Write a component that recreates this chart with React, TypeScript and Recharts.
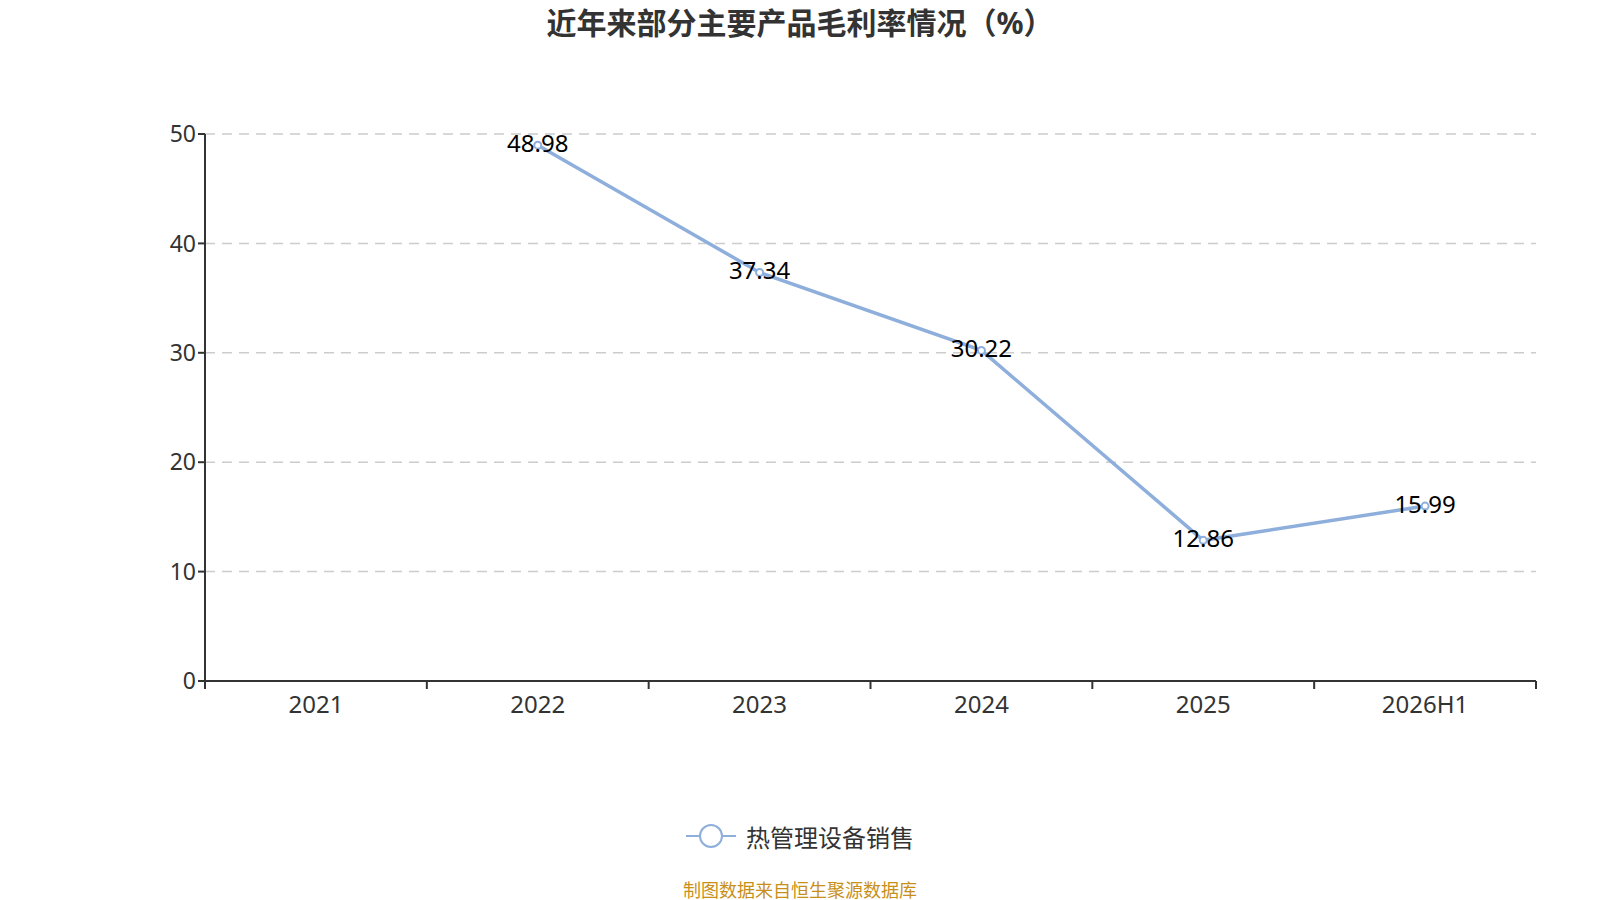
import React from "react";
import { CartesianGrid, LabelList, Line, LineChart, XAxis, YAxis } from "recharts";

const years = ["2021", "2022", "2023", "2024", "2025", "2026H1"];
const grossMargin: (number | null)[] = [null, 48.98, 37.34, 30.22, 12.86, 15.99];
const yTicks = [0, 10, 20, 30, 40, 50];

const seriesName = "热管理设备销售";
const title = "近年来部分主要产品毛利率情况（%）";
const source = "制图数据来自恒生聚源数据库";

const W = 1600;
const H = 900;
const margin = { top: 134, right: 64, bottom: 179, left: 145 };
const yAxisWidth = 60;
const xAxisHeight = 40;
const lineColor = "#8eaedb";
const font = "'Noto Sans', 'Noto Sans CJK SC', sans-serif";

const bandWidth = (W - margin.left - yAxisWidth - margin.right) / years.length;

const data = years.map((year, i) => ({ year, value: grossMargin[i] }));

function XTick(props: any) {
  const { x, y, payload, index } = props;
  const half = bandWidth / 2;
  return (
    <g>
      <line x1={x - half} y1={y - 8} x2={x - half} y2={y} stroke="#333" strokeWidth={2} />
      {index === years.length - 1 && (
        <line x1={x + half} y1={y - 8} x2={x + half} y2={y} stroke="#333" strokeWidth={2} />
      )}
      <text x={x} y={y + 24} textAnchor="middle" fill="#333" fontSize={24} fontFamily={font}>
        {payload.value}
      </text>
    </g>
  );
}

function PointLabel(props: any) {
  const { x, y, value } = props;
  if (value == null) return null;
  return (
    <text x={x} y={y} textAnchor="middle" dominantBaseline="middle" fill="#000" fontSize={24} fontFamily={font}>
      {value}
    </text>
  );
}

export default function App() {
  return (
    <div style={{ position: "absolute", left: 0, top: 0, width: W, height: H, background: "#fff", fontFamily: font }}>
      <div
        style={{
          position: "absolute",
          top: -1,
          left: 0,
          width: W,
          textAlign: "center",
          fontSize: 30,
          fontWeight: "bold",
          color: "#333",
        }}
      >
        {title}
      </div>
      <LineChart width={W} height={H} data={data} margin={margin}>
        <CartesianGrid vertical={false} stroke="#ccc" strokeDasharray="10 7" strokeWidth={1.5} />
        <XAxis
          dataKey="year"
          height={xAxisHeight}
          padding={{ left: bandWidth / 2, right: bandWidth / 2 }}
          axisLine={{ stroke: "#333", strokeWidth: 2 }}
          tickLine={false}
          tick={<XTick />}
          interval={0}
        />
        <YAxis
          width={yAxisWidth}
          domain={[0, 50]}
          ticks={yTicks}
          axisLine={{ stroke: "#333", strokeWidth: 2 }}
          tickLine={{ stroke: "#333", strokeWidth: 2 }}
          tickSize={7}
          tick={{ fill: "#333", fontSize: 23, fontFamily: font }}
        />
        <Line
          type="linear"
          dataKey="value"
          name={seriesName}
          stroke={lineColor}
          strokeWidth={3.5}
          dot={{ r: 3.5, stroke: lineColor, strokeWidth: 2, fill: "#fff" }}
          activeDot={false}
          isAnimationActive={false}
        >
          <LabelList dataKey="value" content={<PointLabel />} />
        </Line>
      </LineChart>
      <div
        style={{
          position: "absolute",
          top: 818,
          left: 0,
          width: W,
          display: "flex",
          justifyContent: "center",
          alignItems: "center",
        }}
      >
        <svg width={50} height={36} style={{ marginRight: 10 }}>
          <line x1={0} y1={18} x2={50} y2={18} stroke={lineColor} strokeWidth={2} />
          <circle cx={25} cy={18} r={11} fill="#fff" stroke={lineColor} strokeWidth={2} />
        </svg>
        <span style={{ fontSize: 24, color: "#333" }}>{seriesName}</span>
      </div>
      <div
        style={{
          position: "absolute",
          top: 876,
          left: 0,
          width: W,
          textAlign: "center",
          fontSize: 18,
          color: "#c8901a",
        }}
      >
        {source}
      </div>
    </div>
  );
}
